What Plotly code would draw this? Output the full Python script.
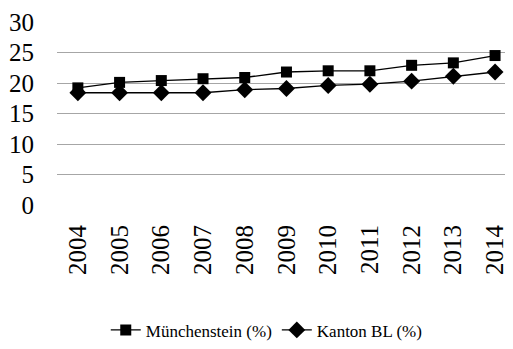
import plotly.graph_objects as go

years = ["2004", "2005", "2006", "2007", "2008", "2009", "2010", "2011", "2012", "2013", "2014"]
muenchenstein = [19.2, 20.1, 20.4, 20.7, 20.9, 21.8, 22.0, 22.0, 22.9, 23.3, 24.5]
kanton_bl = [18.4, 18.4, 18.4, 18.4, 18.9, 19.1, 19.6, 19.8, 20.3, 21.1, 21.8]
y_ticks = [0, 5, 10, 15, 20, 25, 30]

font_family = "Liberation Serif"

fig = go.Figure()
fig.add_trace(go.Scatter(
    x=years, y=muenchenstein, name="Münchenstein (%)", mode="lines+markers",
    line=dict(color="black", width=1.3),
    marker=dict(symbol="square", size=11, color="black"),
))
fig.add_trace(go.Scatter(
    x=years, y=kanton_bl, name="Kanton BL (%)", mode="lines+markers",
    line=dict(color="black", width=1.3),
    marker=dict(symbol="diamond", size=13, color="black"),
))

fig.update_layout(
    width=505, height=341,
    margin=dict(l=49, r=0, t=14, b=144, autoexpand=False),
    paper_bgcolor="white", plot_bgcolor="white",
    font=dict(family=font_family, color="black"),
    showlegend=True,
    legend=dict(orientation="h", x=0.46, xanchor="center", y=-0.685, yanchor="middle",
                font=dict(size=17, family=font_family)),
    xaxis=dict(type="category", range=[-0.5, 10.43], showgrid=False, showline=False,
               zeroline=False, tickangle=-90, tickfont=dict(size=25, family=font_family),
               ticks="", ticklabelstandoff=14, automargin=False),
    yaxis=dict(range=[0, 30], tickvals=y_ticks, showgrid=True, gridcolor="#a6a6a6",
               gridwidth=1, zeroline=False, showline=False,
               tickfont=dict(size=25, family=font_family), ticks="", ticklabelstandoff=22,
               automargin=False),
)

fig.write_html("out.html")
